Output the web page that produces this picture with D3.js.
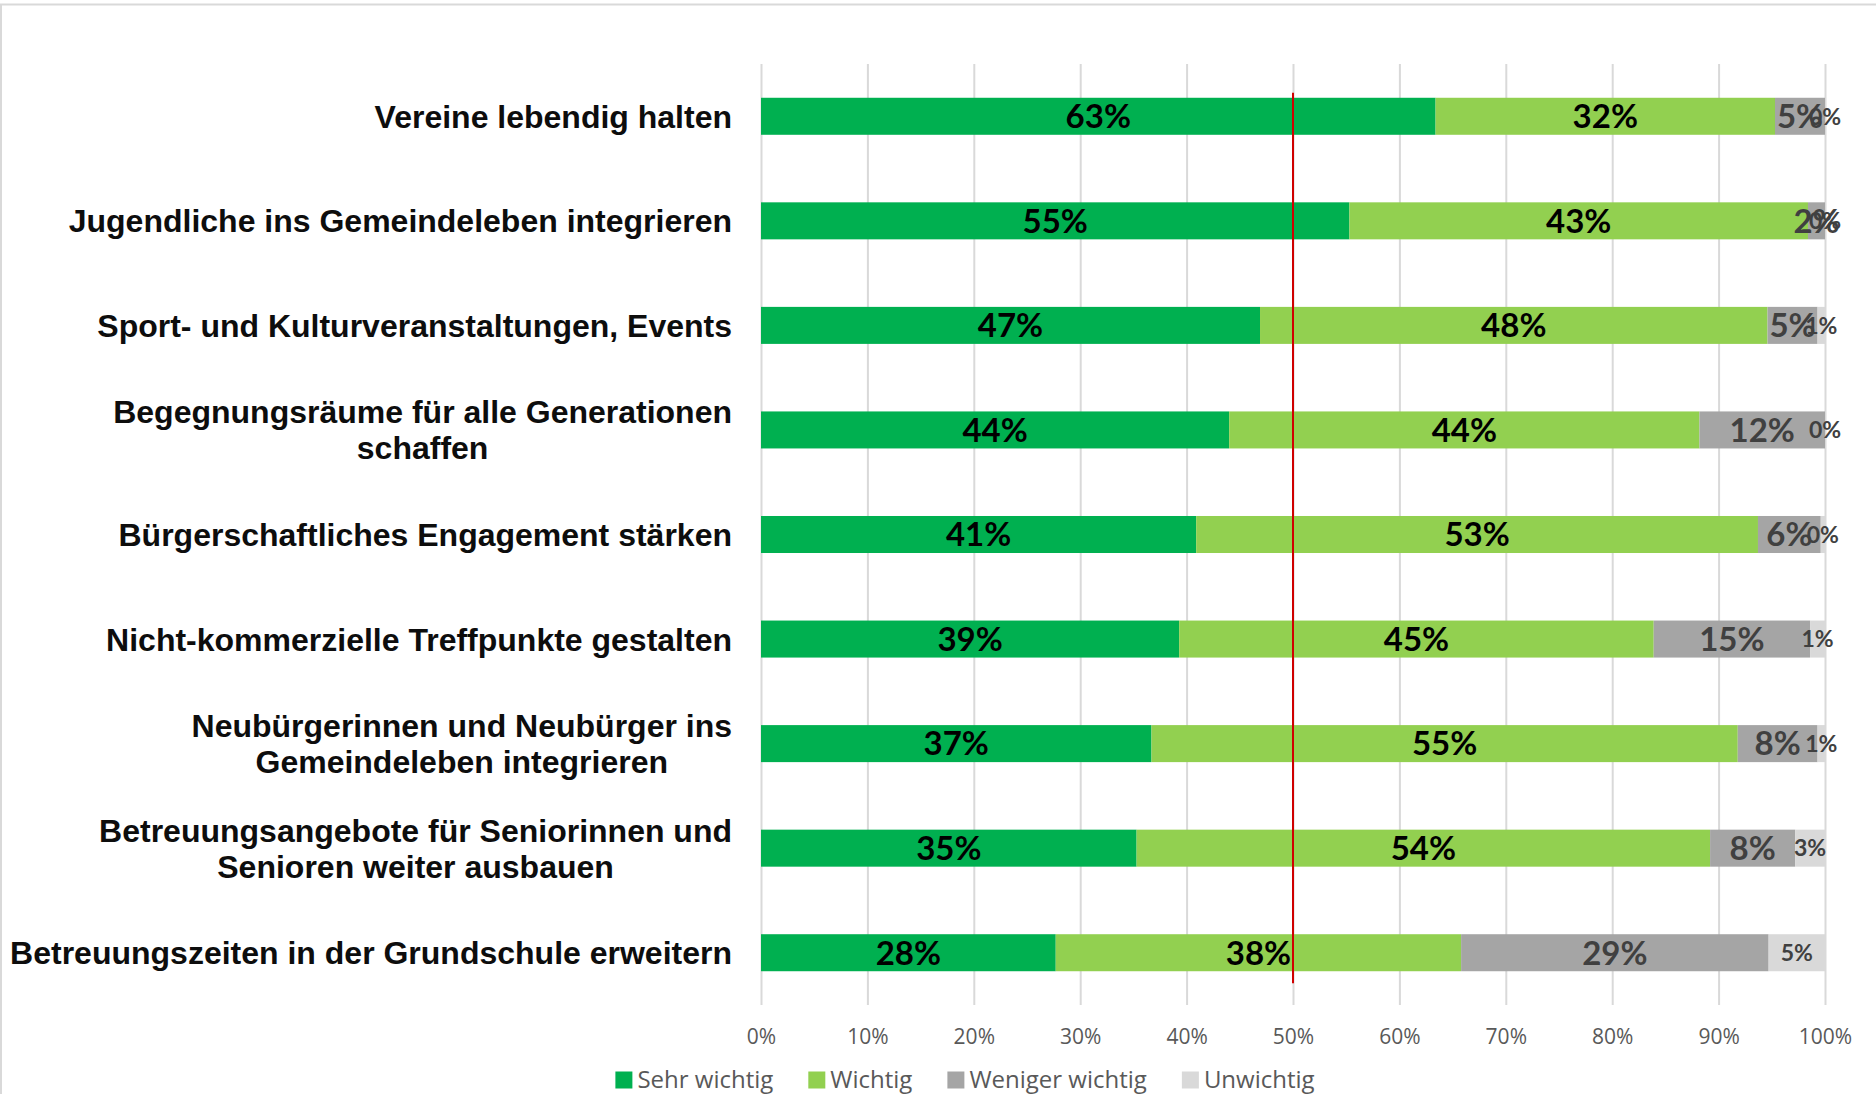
<!DOCTYPE html>
<html>
<head>
<meta charset="utf-8">
<script src="https://cdn.jsdelivr.net/npm/d3@7"></script>
<style>
  body { margin: 0; background: #fff; }
  svg { display: block; }
</style>
</head>
<body>
<div id="chart"></div>
<script>
// data (share of answers per item)
const categories = [
  "Vereine lebendig halten",
  "Jugendliche ins Gemeindeleben integrieren",
  "Sport- und Kulturveranstaltungen, Events",
  "Begegnungsräume für alle Generationen|schaffen",
  "Bürgerschaftliches Engagement stärken",
  "Nicht-kommerzielle Treffpunkte gestalten",
  "Neubürgerinnen und Neubürger ins|Gemeindeleben integrieren",
  "Betreuungsangebote für Seniorinnen und|Senioren weiter ausbauen",
  "Betreuungszeiten in der Grundschule erweitern"
];
const seriesNames = ["Sehr wichtig", "Wichtig", "Weniger wichtig", "Unwichtig"];
const sehrWichtig = [63.4, 55.3, 46.9, 44.0, 40.9, 39.3, 36.7, 35.3, 27.7];
const wichtig = [31.9, 43.1, 47.7, 44.2, 52.8, 44.6, 55.1, 53.9, 38.1];
const wenigerWichtig = [4.7, 1.6, 4.7, 11.8, 5.9, 14.7, 7.5, 8.0, 28.9];
const unwichtig = [0.0, 0.0, 0.7, 0.0, 0.4, 1.4, 0.7, 2.8, 5.3];
const ticks = [0, 10, 20, 30, 40, 50, 60, 70, 80, 90, 100];
const markerValue = 50;

const COLORS = ["#00B050", "#92D050", "#A5A5A5", "#D9D9D9"];
const LABEL_COLORS = ["#000000", "#000000", "#404040", "#404040"];

let width = 1876, height = 1094;
let plotLeft = 761, plotRight = 1825, plotTop = 64, plotBottom = 1005;

let svg = d3.select("#chart").append("svg")
  .attr("width", width)
  .attr("height", height);

// outer frame (only top and left edges are visible)
svg.append("line").attr("x1", 0).attr("x2", width).attr("y1", 4.5).attr("y2", 4.5)
  .attr("stroke", "#d9d9d9").attr("stroke-width", 2);
svg.append("line").attr("x1", 1).attr("x2", 1).attr("y1", 4).attr("y2", height)
  .attr("stroke", "#d9d9d9").attr("stroke-width", 2);

let x = d3.scaleLinear().domain([0, 100]).range([plotLeft, plotRight]);
let y = d3.scaleBand().domain(categories).range([plotTop, plotBottom])
  .paddingInner(0.646).paddingOuter(0.323);

// gridlines + tick labels
let axis = d3.axisBottom(x)
  .tickValues(ticks)
  .tickFormat(d => d + "%")
  .tickSizeInner(-(plotBottom - plotTop))
  .tickSizeOuter(0)
  .tickPadding(24);

let gx = svg.append("g")
  .attr("transform", `translate(0,${plotBottom})`)
  .call(axis);
gx.select(".domain").remove();
gx.selectAll(".tick line").attr("stroke", "#d9d9d9").attr("stroke-width", 2);
gx.selectAll(".tick text")
  .attr("fill", "#595959")
  .style("font-family", "'Open Sans', sans-serif")
  .style("font-size", "21px");

// stacked rows
let table = categories.map((c, i) => ({
  cat: c,
  vals: [sehrWichtig[i], wichtig[i], wenigerWichtig[i], unwichtig[i]]
}));
let segs = [];
table.forEach(row => {
  let acc = 0;
  let total = d3.sum(row.vals);
  row.vals.forEach((v, k) => {
    // scale each row to exactly 100
    segs.push({ cat: row.cat, k: k, v: v, x0: acc / total * 100, x1: (acc + v) / total * 100 });
    acc += v;
  });
});

svg.append("g")
  .selectAll("rect")
  .data(segs.filter(s => s.v > 0))
  .join("rect")
  .attr("x", d => x(d.x0))
  .attr("width", d => x(d.x1) - x(d.x0))
  .attr("y", d => y(d.cat))
  .attr("height", y.bandwidth())
  .attr("fill", d => COLORS[d.k]);

// 50% marker
svg.append("line")
  .attr("x1", x(markerValue)).attr("x2", x(markerValue))
  .attr("y1", y(categories[0]) - 5)
  .attr("y2", y(categories[categories.length - 1]) + y.bandwidth() + 12)
  .attr("stroke", "#D00000")
  .attr("stroke-width", 2);

// data labels
svg.append("g")
  .selectAll("text")
  .data(segs)
  .join("text")
  .attr("x", d => x((d.x0 + d.x1) / 2))
  .attr("y", d => y(d.cat) + y.bandwidth() / 2)
  .attr("dy", "0.36em")
  .attr("text-anchor", "middle")
  .attr("fill", d => LABEL_COLORS[d.k])
  .style("font-family", "Lato, sans-serif")
  .style("font-weight", "bold")
  .style("font-size", d => d.k === 3 ? "23px" : "33px")
  .text(d => Math.round(d.v) + "%");

// category labels (multi-line ones are centred on their widest line)
let labelRight = 732;
categories.forEach(c => {
  let lines = c.split("|");
  let g = svg.append("g");
  let cy = y(c) + y.bandwidth() / 2;
  let lh = 36;
  let texts = lines.map((l, j) => g.append("text")
    .attr("y", cy + (j - (lines.length - 1) / 2) * lh)
    .attr("dy", "0.36em")
    .attr("text-anchor", "middle")
    .attr("fill", "#0d0d0d")
    .style("font-family", "'Liberation Sans', Arial, sans-serif")
    .style("font-weight", "bold")
    .style("font-size", "32px")
    .text(l));
  let w = d3.max(texts, t => t.node().getComputedTextLength());
  texts.forEach(t => t.attr("x", labelRight - w / 2));
});

// legend
let legend = svg.append("g");
let lx = 0;
seriesNames.forEach((name, k) => {
  let item = legend.append("g").attr("transform", `translate(${lx},0)`);
  item.append("rect")
    .attr("x", 0).attr("y", -8.5)
    .attr("width", 17).attr("height", 17)
    .attr("fill", COLORS[k]);
  let t = item.append("text")
    .attr("x", 22).attr("dy", "0.35em")
    .attr("fill", "#595959")
    .style("font-family", "'Open Sans', sans-serif")
    .style("font-size", "24px")
    .text(name);
  lx += 22 + t.node().getComputedTextLength() + 35;
});
lx -= 35;
legend.attr("transform", `translate(${965 - lx / 2},1080)`);
</script>
</body>
</html>
